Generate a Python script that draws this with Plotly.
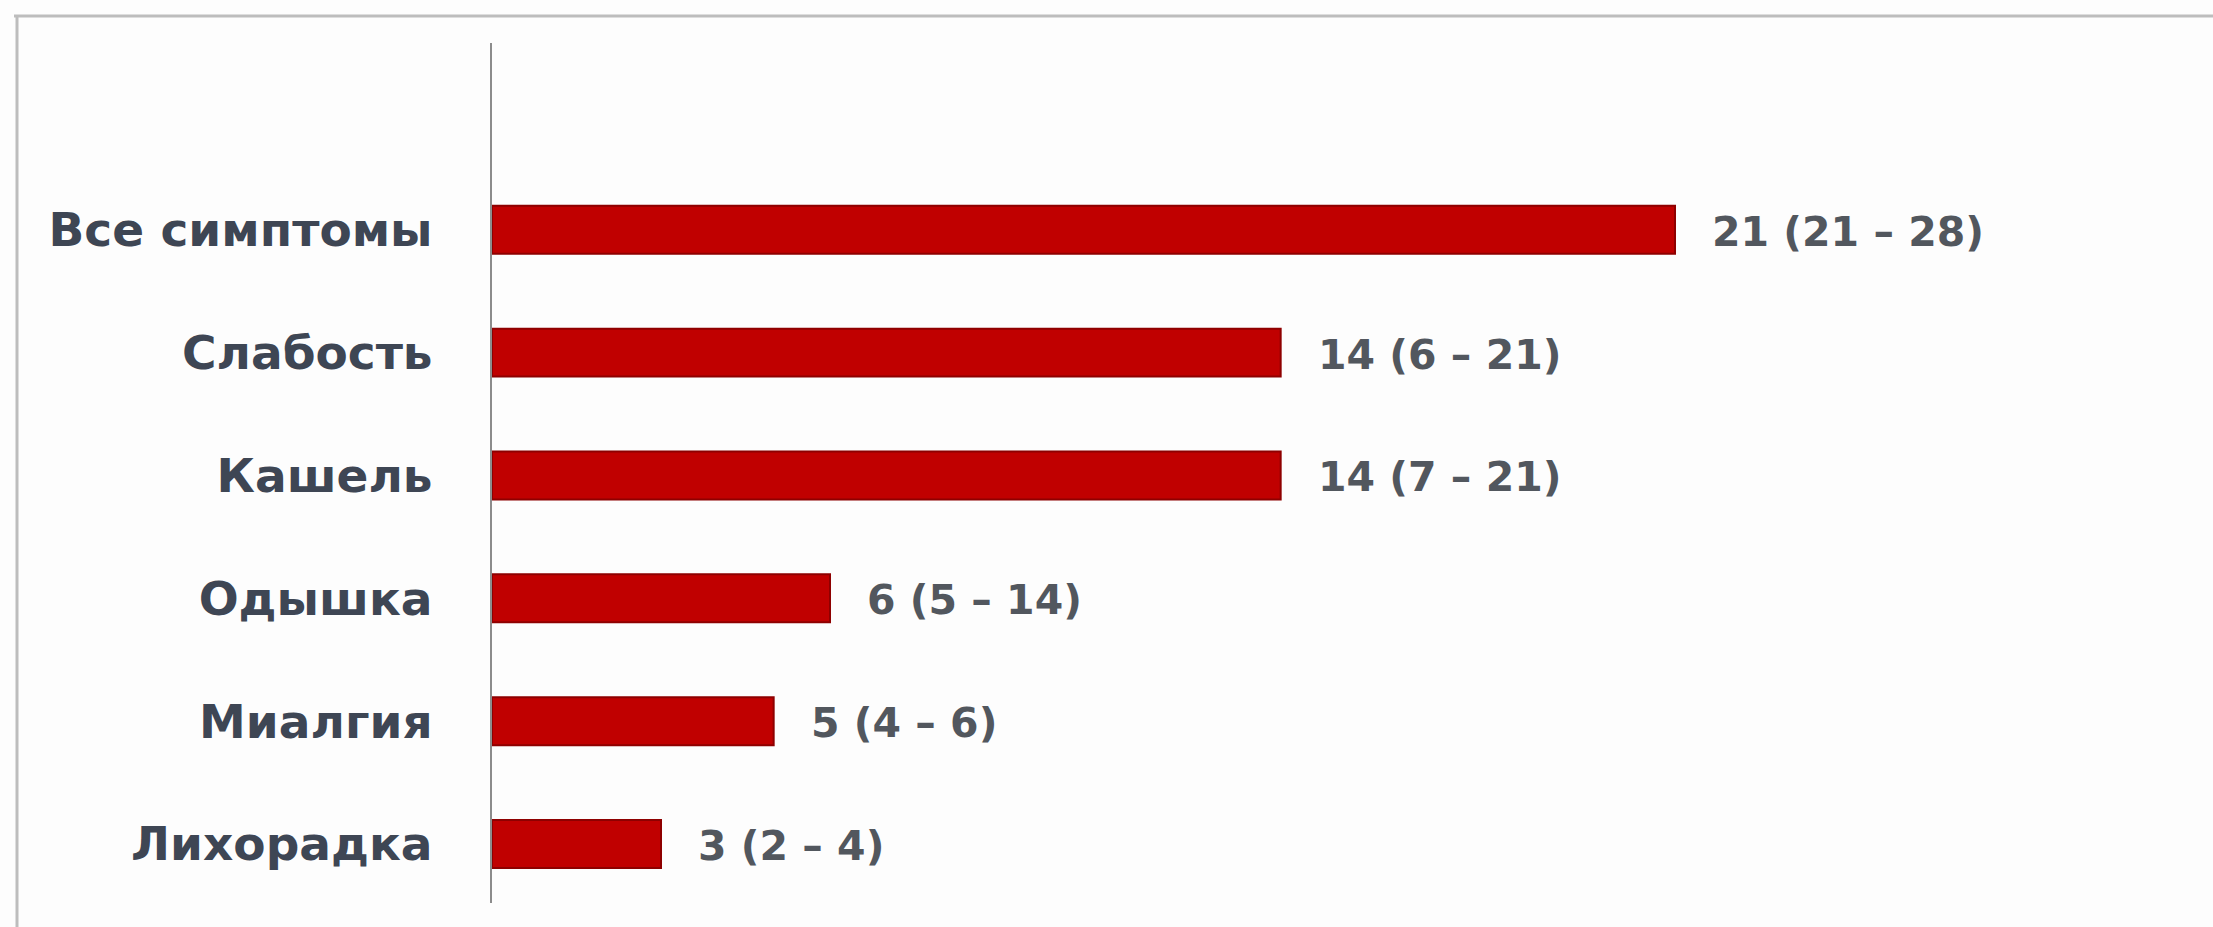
import plotly.graph_objects as go

# Data (top to bottom as shown)
categories = ["Все симптомы", "Слабость", "Кашель", "Одышка", "Миалгия", "Лихорадка"]
medians = [21, 14, 14, 6, 5, 3]
q1 = [21, 6, 7, 5, 4, 2]
q3 = [28, 21, 21, 14, 6, 4]

cats = categories[::-1]
vals = medians[::-1]
labels = [f"{m} ({a} – {b})" for m, a, b in zip(medians, q1, q3)][::-1]

fig = go.Figure()
fig.add_trace(go.Bar(
    y=cats, x=vals, orientation="h", width=0.39,
    marker=dict(color="#C00000", line=dict(color="#8E0000", width=2)),
    hoverinfo="skip",
))

annotations = []
for c, v, t in zip(cats, vals, labels):
    annotations.append(dict(
        x=v, y=c, xref="x", yref="y", text=t, showarrow=False,
        xanchor="left", yanchor="middle", xshift=35, yshift=-2,
        font=dict(family="DejaVu Sans", size=41, color="#52575E", weight="bold"),
    ))

fig.update_layout(
    width=2213, height=927,
    margin=dict(l=492, r=31, t=43, b=24),
    paper_bgcolor="#FDFDFD", plot_bgcolor="#FDFDFD",
    showlegend=False,
    annotations=annotations,
    xaxis=dict(range=[0, 30], visible=False, fixedrange=True),
    yaxis=dict(
        range=[-0.48, 6.52], showline=True, linecolor="#8C8C8C", linewidth=2,
        ticks="", showgrid=False, zeroline=False, ticklabelstandoff=48,
        tickfont=dict(family="DejaVu Sans", size=47, color="#3E4654", weight="bold"),
    ),
)
# outer frame (top and left visible)
fig.add_shape(type="line", xref="paper", yref="paper", x0=-478/1690, x1=(2213-492)/1690,
              y0=1 + 27/860, y1=1 + 27/860, line=dict(color="#BDBDBD", width=3))
fig.add_shape(type="line", xref="paper", yref="paper", x0=-475/1690, x1=-475/1690,
              y0=-30/860, y1=1 + 27/860, line=dict(color="#BDBDBD", width=3))

fig.write_html("out.html")
